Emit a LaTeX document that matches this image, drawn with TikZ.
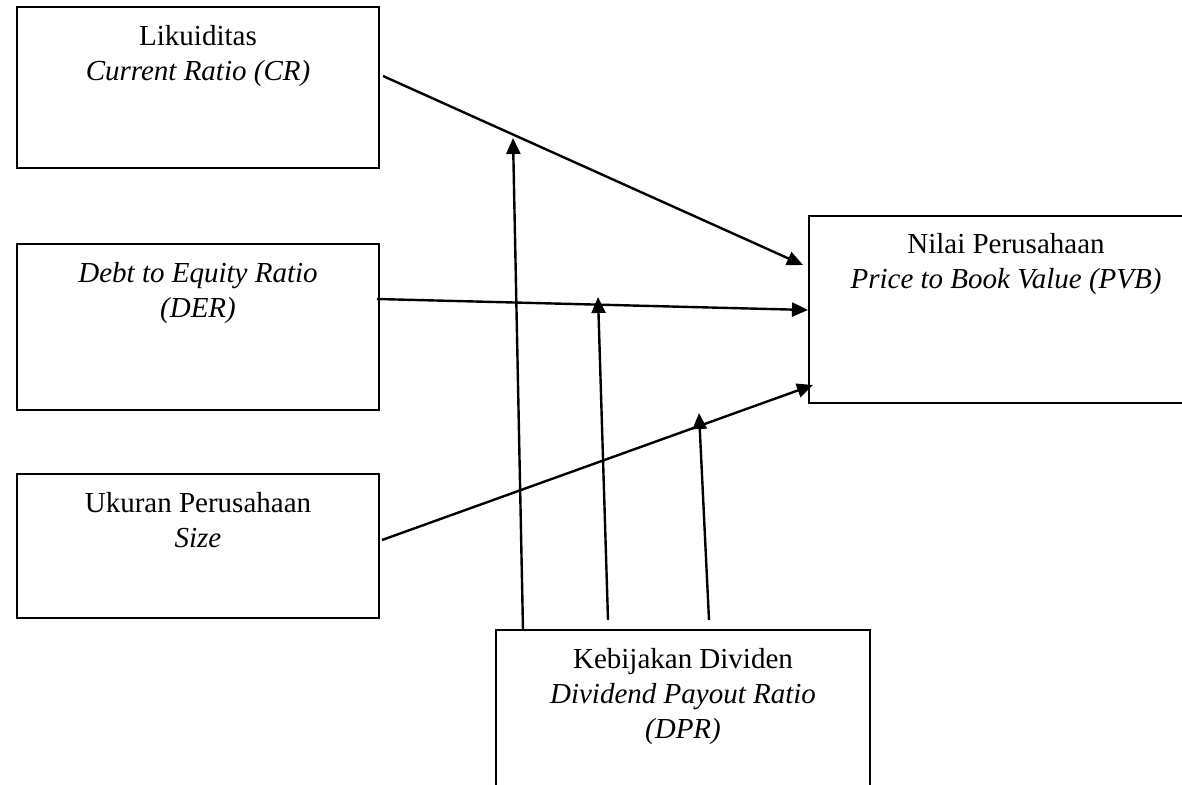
\documentclass[tikz,border=0pt]{standalone}
\usepackage{fontspec}
\setmainfont{Liberation Serif}
\usetikzlibrary{arrows.meta}
\tikzset{
  box/.style={draw=black, line width=2pt, fill=none, inner sep=0pt, outer sep=0pt},
  txt/.style={align=center, inner sep=0pt, anchor=north, font=\fontsize{29}{35}\selectfont},
  arr/.style={line width=2.4pt, -{Triangle[length=16pt,width=14pt]}},
}
\begin{document}
\begin{tikzpicture}[x=1pt,y=-1pt]
\useasboundingbox (0,0) rectangle (1182,784);
\begin{scope}
\clip (0,0) rectangle (1182,784);
% boxes
\node[box, minimum width=362pt, minimum height=161pt] (cr) at (198,87.5) {};
\node[box, minimum width=362pt, minimum height=166pt] (der) at (198,327) {};
\node[box, minimum width=362pt, minimum height=144pt] (size) at (198,546) {};
\node[box, minimum width=394pt, minimum height=187pt] (pvb) at (1006,309.5) {};
\node[box, minimum width=374pt, minimum height=180pt] (dpr) at (683,720) {};
\end{scope}
% texts
\node[txt] (crt) at ([yshift=-13.5pt]cr.north) {\strut Likuiditas\\\textit{Current Ratio (CR)}};
\node[txt] (dert) at ([yshift=-13.5pt]der.north) {\strut\textit{Debt to Equity Ratio}\\\textit{(DER)}};
\node[txt] (sizet) at ([yshift=-13.5pt]size.north) {\strut Ukuran Perusahaan\\\textit{Size}};
\node[txt] (pvbt) at ([yshift=-12.5pt]pvb.north) {\strut Nilai Perusahaan\\\textit{Price to Book Value (PVB)}};
\node[txt] (dprt) at ([yshift=-13.5pt]dpr.north) {\strut Kebijakan Dividen\\\textit{Dividend Payout Ratio}\\\textit{(DPR)}};
% main arrows
\draw[arr] ([shift={(4pt,-69pt)}]cr.north east) -- ([shift={(-6pt,-49pt)}]pvb.north west);
\draw[arr] ([shift={(-2pt,-55pt)}]der.north east) -- ([shift={(-1pt,-94pt)}]pvb.north west);
\draw[arr] ([shift={(3pt,-66pt)}]size.north east) -- ([shift={(4pt,-169pt)}]pvb.north west);
% moderating arrows
\coordinate (m1) at (513,138);
\coordinate (m2) at (598,297);
\coordinate (m3) at (699,413);
\draw[arr] ([shift={(27pt,0pt)}]dpr.north west) -- (m1);
\draw[arr] ([shift={(112pt,10pt)}]dpr.north west) -- (m2);
\draw[arr] ([shift={(213pt,10pt)}]dpr.north west) -- (m3);
\end{tikzpicture}
\end{document}
